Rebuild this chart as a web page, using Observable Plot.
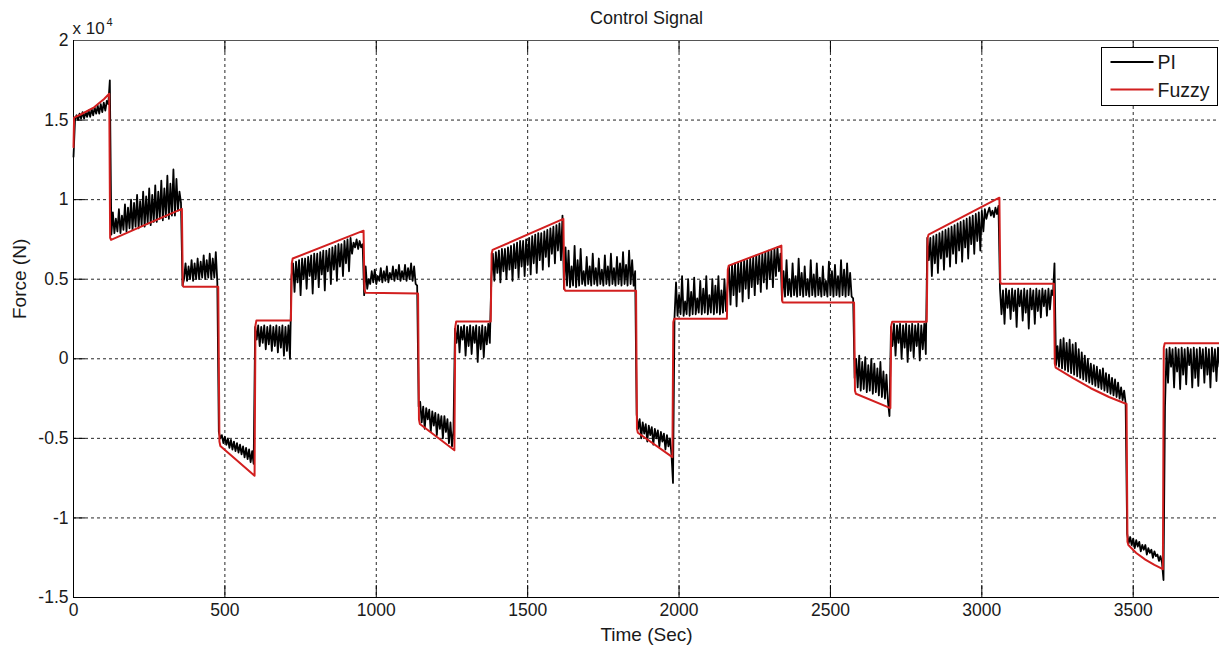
<!DOCTYPE html>
<html>
<head>
<meta charset="utf-8">
<script src="https://cdn.jsdelivr.net/npm/d3@7"></script>
<script src="https://cdn.jsdelivr.net/npm/@observablehq/plot@0.6"></script>
<style>
  html, body { margin: 0; padding: 0; background: #fff; overflow: hidden; }
  #wrap { position: relative; width: 1219px; height: 649px; font-family: "Liberation Sans", Arial, Helvetica, sans-serif; }
</style>
</head>
<body>
<div id="wrap"></div>
<script>
// ---------- DATA (force in units of 10^4 N) ----------
const xTicks = [0, 500, 1000, 1500, 2000, 2500, 3000, 3500];
const yTicks = [-1.5, -1, -0.5, 0, 0.5, 1, 1.5, 2];
const seriesNames = ["PI", "Fuzzy"];

// Fuzzy controller output: breakpoints (time s, force x1e4 N)
const fuzzyTime = [0, 2, 24, 68, 101, 118, 121, 124, 240, 358, 361, 364, 478, 482, 485, 598, 601, 604, 718, 721, 724, 958, 961, 964, 1138, 1141, 1144, 1258, 1261, 1264, 1378, 1381, 1384, 1618, 1621, 1624, 1858, 1861, 1864, 1978, 1981, 1984, 2158, 2161, 2164, 2338, 2341, 2344, 2578, 2581, 2584, 2698, 2701, 2704, 2818, 2821, 2824, 3058, 3061, 3064, 3238, 3241, 3244, 3300, 3360, 3420, 3478, 3481, 3484, 3510, 3540, 3570, 3598, 3601, 3604, 3785];
const fuzzyForce = [1.33, 1.515, 1.535, 1.58, 1.632, 1.665, 0.76, 0.747, 0.845, 0.942, 0.46, 0.452, 0.452, -0.52, -0.548, -0.735, 0.21, 0.24, 0.24, 0.60, 0.63, 0.805, 0.44, 0.415, 0.41, -0.38, -0.41, -0.575, 0.20, 0.235, 0.235, 0.66, 0.684, 0.879, 0.44, 0.428, 0.428, -0.44, -0.465, -0.618, 0.23, 0.252, 0.252, 0.56, 0.585, 0.711, 0.36, 0.353, 0.353, -0.20, -0.22, -0.31, 0.21, 0.233, 0.233, 0.76, 0.78, 1.012, 0.48, 0.472, 0.472, -0.03, -0.056, -0.12, -0.185, -0.24, -0.284, -1.15, -1.17, -1.22, -1.262, -1.295, -1.322, 0.07, 0.097, 0.097];

// PI controller output: samples every 5 s inside each set-point segment
const piStep = 5;
const segmentStart = [0, 120, 360, 480, 600, 720, 960, 1140, 1260, 1380, 1620, 1860, 1980, 2160, 2340, 2580, 2700, 2820, 3060, 3240, 3480, 3600];
const piSeg0 = [1.27, 1.50, 1.53, 1.50, 1.54, 1.51, 1.55, 1.51, 1.55, 1.52, 1.56, 1.52, 1.57, 1.53, 1.58, 1.54, 1.59, 1.54, 1.60, 1.55, 1.61, 1.56, 1.62, 1.60];
const piSeg1 = [1.75, 0.78, 0.92, 0.79, 0.88, 0.80, 0.94, 0.79, 0.90, 0.81, 0.97, 0.80, 0.95, 0.82, 1.00, 0.81, 0.98, 0.83, 1.03, 0.82, 0.99, 0.84, 1.05, 0.83, 1.02, 0.85, 1.07, 0.84, 1.03, 0.86, 1.09, 0.86, 1.05, 0.88, 1.12, 0.87, 1.07, 0.89, 1.15, 0.88, 1.10, 0.90, 1.19, 0.90, 1.13, 0.93, 1.05, 0.98];
const piSeg2 = [0.46, 0.50, 0.60, 0.49, 0.58, 0.50, 0.62, 0.49, 0.60, 0.50, 0.63, 0.50, 0.61, 0.51, 0.65, 0.50, 0.62, 0.51, 0.66, 0.50, 0.63, 0.51, 0.67, 0.48];
const piSeg3 = [-0.46, -0.50, -0.48, -0.53, -0.49, -0.54, -0.50, -0.56, -0.51, -0.57, -0.52, -0.58, -0.53, -0.59, -0.54, -0.60, -0.55, -0.62, -0.56, -0.63, -0.57, -0.65, -0.58, -0.66];
const piSeg4 = [0.20, 0.12, 0.21, 0.08, 0.20, 0.10, 0.21, 0.06, 0.20, 0.09, 0.21, 0.05, 0.20, 0.08, 0.21, 0.04, 0.20, 0.07, 0.21, 0.02, 0.20, 0.05, 0.21, 0.00];
const piSeg5 = [0.52, 0.60, 0.42, 0.61, 0.48, 0.62, 0.40, 0.63, 0.50, 0.63, 0.44, 0.64, 0.52, 0.65, 0.41, 0.66, 0.50, 0.66, 0.45, 0.67, 0.53, 0.68, 0.43, 0.68, 0.55, 0.69, 0.47, 0.70, 0.56, 0.71, 0.49, 0.72, 0.58, 0.72, 0.52, 0.74, 0.60, 0.75, 0.55, 0.76, 0.66, 0.73, 0.70, 0.75, 0.69, 0.74, 0.70, 0.72];
const piSeg6 = [0.40, 0.58, 0.44, 0.50, 0.47, 0.55, 0.48, 0.56, 0.47, 0.52, 0.49, 0.57, 0.48, 0.55, 0.49, 0.58, 0.48, 0.54, 0.50, 0.58, 0.49, 0.56, 0.50, 0.59, 0.49, 0.55, 0.50, 0.59, 0.49, 0.57, 0.50, 0.60, 0.49, 0.58, 0.47, 0.46];
const piSeg7 = [-0.30, -0.27, -0.40, -0.30, -0.44, -0.31, -0.38, -0.32, -0.46, -0.33, -0.42, -0.34, -0.48, -0.35, -0.44, -0.36, -0.50, -0.36, -0.46, -0.38, -0.53, -0.40, -0.55, -0.45];
const piSeg8 = [0.19, 0.10, 0.21, 0.04, 0.20, 0.12, 0.21, 0.02, 0.20, 0.08, 0.21, 0.03, 0.20, 0.10, 0.21, -0.02, 0.20, 0.06, 0.21, 0.01, 0.20, 0.09, 0.22, 0.10];
const piSeg9 = [0.50, 0.66, 0.49, 0.67, 0.54, 0.68, 0.48, 0.69, 0.55, 0.69, 0.50, 0.70, 0.56, 0.71, 0.49, 0.72, 0.57, 0.73, 0.51, 0.74, 0.58, 0.74, 0.52, 0.75, 0.59, 0.76, 0.53, 0.77, 0.60, 0.78, 0.54, 0.79, 0.62, 0.79, 0.56, 0.80, 0.64, 0.81, 0.58, 0.82, 0.66, 0.83, 0.60, 0.84, 0.68, 0.85, 0.62, 0.90];
const piSeg10 = [0.44, 0.70, 0.46, 0.68, 0.45, 0.58, 0.46, 0.71, 0.45, 0.62, 0.46, 0.69, 0.47, 0.55, 0.46, 0.64, 0.47, 0.58, 0.46, 0.66, 0.47, 0.57, 0.46, 0.63, 0.47, 0.56, 0.46, 0.65, 0.47, 0.58, 0.46, 0.66, 0.47, 0.57, 0.46, 0.64, 0.47, 0.60, 0.46, 0.67, 0.47, 0.59, 0.46, 0.68, 0.47, 0.62, 0.46, 0.55];
const piSeg11 = [-0.35, -0.44, -0.38, -0.50, -0.40, -0.47, -0.41, -0.52, -0.42, -0.48, -0.43, -0.54, -0.44, -0.50, -0.45, -0.55, -0.46, -0.52, -0.47, -0.57, -0.48, -0.55, -0.50, -0.60];
const piSeg12 = [-0.78, 0.26, 0.48, 0.27, 0.40, 0.28, 0.52, 0.27, 0.36, 0.28, 0.50, 0.27, 0.42, 0.28, 0.51, 0.28, 0.38, 0.29, 0.49, 0.28, 0.44, 0.29, 0.52, 0.28, 0.40, 0.29, 0.50, 0.28, 0.46, 0.29, 0.52, 0.28, 0.43, 0.29, 0.50, 0.30];
const piSeg13 = [0.45, 0.58, 0.34, 0.59, 0.40, 0.60, 0.33, 0.60, 0.42, 0.61, 0.36, 0.62, 0.44, 0.62, 0.38, 0.63, 0.45, 0.64, 0.40, 0.65, 0.47, 0.65, 0.42, 0.66, 0.48, 0.67, 0.44, 0.68, 0.50, 0.68, 0.45, 0.69, 0.52, 0.70, 0.55, 0.66];
const piSeg14 = [0.37, 0.55, 0.39, 0.62, 0.40, 0.50, 0.39, 0.60, 0.40, 0.52, 0.39, 0.63, 0.40, 0.54, 0.39, 0.58, 0.40, 0.50, 0.39, 0.62, 0.40, 0.53, 0.39, 0.60, 0.40, 0.51, 0.39, 0.58, 0.40, 0.49, 0.39, 0.61, 0.40, 0.55, 0.39, 0.59, 0.40, 0.52, 0.39, 0.62, 0.40, 0.56, 0.39, 0.60, 0.40, 0.54, 0.39, 0.38];
const piSeg15 = [-0.12, 0.00, -0.18, 0.02, -0.20, -0.02, -0.19, 0.01, -0.21, -0.04, -0.20, 0.00, -0.22, -0.03, -0.21, -0.06, -0.23, -0.02, -0.24, -0.08, -0.25, -0.10, -0.27, -0.36];
const piSeg16 = [0.20, 0.08, 0.22, 0.02, 0.21, 0.10, 0.22, 0.00, 0.21, 0.07, 0.22, -0.02, 0.21, 0.05, 0.22, 0.01, 0.21, 0.08, 0.22, -0.01, 0.21, 0.06, 0.22, 0.03];
const piSeg17 = [0.76, 0.62, 0.76, 0.52, 0.77, 0.60, 0.78, 0.54, 0.79, 0.63, 0.80, 0.56, 0.81, 0.64, 0.82, 0.58, 0.83, 0.66, 0.84, 0.60, 0.85, 0.68, 0.86, 0.61, 0.87, 0.70, 0.88, 0.63, 0.89, 0.72, 0.90, 0.66, 0.91, 0.74, 0.92, 0.68, 0.93, 0.80, 0.94, 0.88, 0.92, 0.95, 0.90, 0.93, 0.89, 0.95, 0.91, 0.96];
const piSeg18 = [0.44, 0.28, 0.43, 0.22, 0.44, 0.32, 0.43, 0.25, 0.44, 0.30, 0.43, 0.20, 0.44, 0.33, 0.43, 0.24, 0.44, 0.29, 0.43, 0.19, 0.44, 0.31, 0.43, 0.22, 0.44, 0.30, 0.43, 0.26, 0.44, 0.33, 0.43, 0.27, 0.44, 0.31, 0.43, 0.40];
const piSeg19 = [0.60, -0.04, 0.08, -0.05, 0.12, -0.06, 0.13, -0.07, 0.10, -0.08, 0.12, -0.09, 0.09, -0.10, 0.10, -0.11, 0.06, -0.12, 0.04, -0.13, 0.02, -0.14, 0.00, -0.15, -0.03, -0.16, -0.04, -0.17, -0.05, -0.18, -0.07, -0.19, -0.06, -0.20, -0.09, -0.21, -0.10, -0.22, -0.12, -0.23, -0.13, -0.24, -0.15, -0.25, -0.18, -0.26, -0.20, -0.28];
const piSeg20 = [-1.10, -1.16, -1.12, -1.17, -1.13, -1.19, -1.14, -1.18, -1.15, -1.21, -1.17, -1.20, -1.17, -1.23, -1.19, -1.22, -1.20, -1.25, -1.21, -1.24, -1.23, -1.27, -1.24, -1.28];
const piSeg21 = [-1.39, -0.30, 0.06, -0.15, 0.07, -0.05, 0.06, -0.18, 0.07, -0.08, 0.06, -0.19, 0.07, -0.10, 0.06, -0.16, 0.07, -0.04, 0.06, -0.18, 0.07, -0.12, 0.06, -0.17, 0.07, -0.06, 0.06, -0.15, 0.07, -0.10, 0.06, -0.18, 0.07, -0.08, 0.06, -0.14, 0.07, -0.05];
const piSegments = [piSeg0, piSeg1, piSeg2, piSeg3, piSeg4, piSeg5, piSeg6, piSeg7, piSeg8, piSeg9, piSeg10, piSeg11, piSeg12, piSeg13, piSeg14, piSeg15, piSeg16, piSeg17, piSeg18, piSeg19, piSeg20, piSeg21];

// ---------- BUILD TABLES ----------
const piData = piSegments.flatMap((vals, k) => vals.map((v, i) => ({time: segmentStart[k] + i * piStep, force: v})));
const fuzzyData = fuzzyTime.map((t, i) => ({time: t, force: fuzzyForce[i]}));

const W = 1219, H = 649;
const mTop = 40, mBottom = 52, mLeft = 73, mRight = 0;
const plotH = H - mTop - mBottom, plotW = W - mLeft - mRight;
const xMax = 3785;
const font = '"Liberation Sans", Arial, Helvetica, sans-serif';
const red = "#d21f1f";
const ink = "#1a1a1a";

const chart = Plot.plot({
  width: W, height: H,
  marginTop: mTop, marginBottom: mBottom, marginLeft: mLeft, marginRight: mRight,
  style: {fontFamily: font, fontSize: "17px", color: ink, background: "#fff", overflow: "visible"},
  x: {domain: [0, xMax]},
  y: {domain: [-1.5, 2]},
  marks: [
    Plot.gridX(xTicks, {stroke: "#000", strokeOpacity: 0.85, strokeDasharray: "3,3"}),
    Plot.gridY(yTicks, {stroke: "#000", strokeOpacity: 0.85, strokeDasharray: "3,3"}),
    Plot.ruleX(xTicks, {x: d => d, insetTop: plotH - 12, stroke: "#000"}),
    Plot.ruleX(xTicks, {x: d => d, insetBottom: plotH - 12, stroke: "#000"}),
    Plot.ruleY(yTicks, {y: d => d, insetRight: plotW - 12, stroke: "#000"}),
    Plot.ruleY([-1.5], {stroke: "#000"}),
    Plot.ruleY([2], {stroke: "#555"}),
    Plot.ruleX([0], {stroke: "#000"}),
    Plot.line(piData, {x: "time", y: "force", stroke: "#000", strokeWidth: 1.8}),
    Plot.line(fuzzyData, {x: "time", y: "force", stroke: red, strokeWidth: 2}),
    Plot.axisX(xTicks, {tickSize: 0, tickPadding: 6, fontSize: 17.5, tickFormat: d => String(d), label: null}),
    Plot.axisY(yTicks, {tickSize: 0, tickPadding: 5, fontSize: 17.5, tickFormat: d => String(d), label: null}),
    Plot.text(["Control Signal"], {frameAnchor: "top", lineAnchor: "middle", dy: -22, fontSize: 18, fill: ink}),
    Plot.text(["Time (Sec)"], {frameAnchor: "bottom", lineAnchor: "middle", dy: 37, fontSize: 19, fill: ink}),
    Plot.text(["Force (N)"], {frameAnchor: "left", lineAnchor: "middle", dx: -54, rotate: -90, fontSize: 19, fill: ink}),
    Plot.text(["x 10"], {frameAnchor: "top-left", lineAnchor: "middle", textAnchor: "start", dx: -1, dy: -12, fontSize: 17, fill: ink}),
    Plot.text(["4"], {frameAnchor: "top-left", lineAnchor: "middle", textAnchor: "start", dx: 33, dy: -18, fontSize: 11, fill: ink})
  ]
});

const wrap = document.getElementById("wrap");
wrap.appendChild(chart);

// legend overlay (top-right, inside the axes)
const ns = "http://www.w3.org/2000/svg";
const leg = document.createElementNS(ns, "svg");
leg.setAttribute("width", W);
leg.setAttribute("height", 120);
leg.style.position = "absolute";
leg.style.left = "0px";
leg.style.top = "0px";
const lx = 1101.5, ly = 47.5, lw = 116, lh = 58;
const box = document.createElementNS(ns, "rect");
box.setAttribute("x", lx); box.setAttribute("y", ly);
box.setAttribute("width", lw); box.setAttribute("height", lh);
box.setAttribute("fill", "#fff"); box.setAttribute("stroke", "#000"); box.setAttribute("stroke-width", 1);
leg.appendChild(box);
const legColors = ["#000", red];
seriesNames.forEach((name, i) => {
  const yy = ly + 14.5 + i * 27.5;
  const ln = document.createElementNS(ns, "line");
  ln.setAttribute("x1", lx + 9); ln.setAttribute("x2", lx + 52);
  ln.setAttribute("y1", yy); ln.setAttribute("y2", yy);
  ln.setAttribute("stroke", legColors[i]); ln.setAttribute("stroke-width", 2);
  leg.appendChild(ln);
  const tx = document.createElementNS(ns, "text");
  tx.setAttribute("x", lx + 56); tx.setAttribute("y", yy + 7);
  tx.setAttribute("font-family", font); tx.setAttribute("font-size", 19.5);
  tx.setAttribute("fill", ink);
  tx.textContent = name;
  leg.appendChild(tx);
});
wrap.appendChild(leg);
</script>
</body>
</html>
